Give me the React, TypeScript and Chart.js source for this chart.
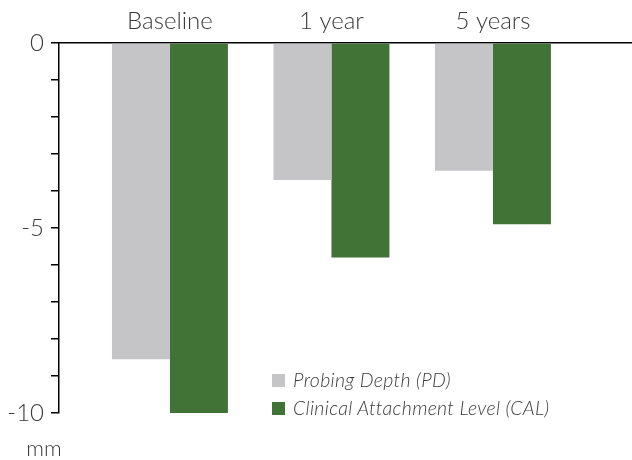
import React, { useEffect, useRef } from "react";
import { Chart, registerables } from "chart.js";

Chart.register(...registerables);

const categories = ["Baseline", "1 year", "5 years"];
const seriesLabels = ["Probing Depth (PD)", "Clinical Attachment Level (CAL)"];
const pdValues = [-8.55, -3.7, -3.45];
const calValues = [-10.0, -5.8, -4.9];
const yTickLabels = [0, -5, -10];
const yUnit = "mm";

const GRAY = "#c5c5c7";
const GREEN = "#417336";
const TEXT = "#3a3a3a";
const FONT = "Lato, 'Open Sans', sans-serif";

const unitPlugin = {
  id: "unitLabel",
  afterDraw(chart: any) {
    const { ctx, chartArea } = chart;
    ctx.save();
    ctx.font = `300 22px ${FONT}`;
    ctx.fillStyle = TEXT;
    ctx.textAlign = "center";
    ctx.textBaseline = "alphabetic";
    ctx.fillText(yUnit, chartArea.left - 15, chartArea.bottom + 43);
    ctx.restore();
  },
};

export default function App() {
  const ref = useRef<HTMLCanvasElement>(null);

  useEffect(() => {
    if (!ref.current) return;
    const chart = new Chart(ref.current, {
      type: "bar",
      data: {
        datasets: [
          {
            label: seriesLabels[0],
            data: pdValues.map((y, i) => ({ x: i, y })),
            backgroundColor: GRAY,
            borderWidth: 0,
          },
          {
            label: seriesLabels[1],
            data: calValues.map((y, i) => ({ x: i, y })),
            backgroundColor: GREEN,
            borderWidth: 0,
          },
        ],
      },
      plugins: [unitPlugin],
      options: {
        animation: false,
        responsive: false,
        maintainAspectRatio: false,
        layout: { padding: { left: 0, right: 0, top: 0, bottom: 47 } },
        datasets: {
          bar: { categoryPercentage: 0.718, barPercentage: 1 },
        },
        plugins: {
          legend: { display: false },
          tooltip: { enabled: false },
        },
        scales: {
          x: {
            type: "linear",
            position: "top",
            offset: false,
            min: -0.687,
            max: 2.861,
            afterBuildTicks: (s: any) => {
              s.ticks = categories.map((_, i) => ({ value: i }));
            },
            afterFit: (s: any) => {
              s.height = 43;
            },
            grid: { display: false, drawTicks: false, offset: false },
            border: { display: true, color: "#000", width: 1.5 },
            ticks: {
              autoSkip: false,
              maxRotation: 0,
              padding: 7,
              color: TEXT,
              font: { family: FONT, size: 24, weight: "300" },
              callback: (v: any) => categories[Math.round(v)] ?? "",
            },
          },
          y: {
            min: -10,
            max: 0,
            afterFit: (s: any) => {
              s.width = 59;
            },
            afterBuildTicks: (s: any) => {
              const t = [];
              for (let v = 0; v >= -10; v--) t.push({ value: v });
              s.ticks = t;
            },
            grid: {
              display: true,
              drawOnChartArea: false,
              drawTicks: true,
              tickLength: 8,
              color: "#000",
              lineWidth: 1.5,
            },
            border: { display: true, color: "#000", width: 1.5 },
            ticks: {
              autoSkip: false,
              padding: 7,
              color: TEXT,
              font: { family: FONT, size: 24, weight: "300" },
              callback: (v: any) => (yTickLabels.includes(v) ? String(v) : ""),
            },
          },
        },
      },
    } as any);
    return () => chart.destroy();
  }, []);

  const legendColors = [GRAY, GREEN];

  return (
    <div style={{ position: "fixed", left: 0, top: 0, width: 632, height: 460, background: "#fff" }}>
      <canvas ref={ref} width={632} height={460} style={{ display: "block" }} />
      <div
        style={{
          position: "absolute",
          left: 272,
          top: 366,
          fontFamily: FONT,
          fontStyle: "italic",
          fontWeight: 300,
          fontSize: 19.5,
          color: TEXT,
          lineHeight: "28px",
        }}
      >
        {seriesLabels.map((l, i) => (
          <div key={l} style={{ display: "flex", alignItems: "center", whiteSpace: "nowrap" }}>
            <span
              style={{
                display: "inline-block",
                width: 13,
                height: 13,
                background: legendColors[i],
                marginRight: 8,
              }}
            />
            <span style={{ letterSpacing: 0.3 }}>{l}</span>
          </div>
        ))}
      </div>
    </div>
  );
}
